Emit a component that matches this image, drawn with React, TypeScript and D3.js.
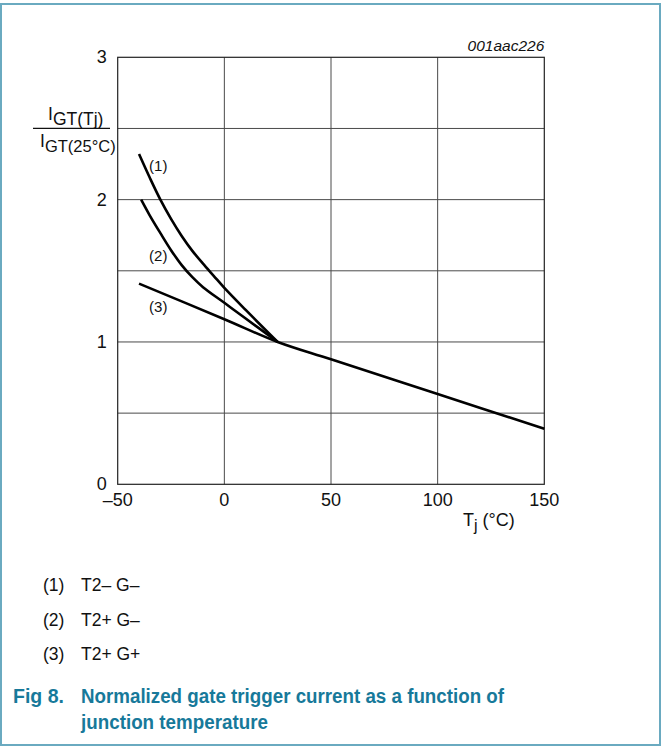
import { useEffect, useRef } from "react"
import * as d3 from "d3"

// Data
const xTicks = [-50, 0, 50, 100, 150]
const yTicks = [0, 1, 2, 3]
const yGrid = [0.5, 1, 1.5, 2, 2.5]

const curve1T = [-40, -35, -30, -25, -20, -15, -10, -5, 0, 10, 25]
const curve1V = [2.32, 2.155, 2.0, 1.865, 1.745, 1.64, 1.55, 1.465, 1.38, 1.225, 1.0]

const curve2T = [-39, -35, -30, -25, -20, -15, -10, 0, 10, 25]
const curve2V = [2.0, 1.89, 1.765, 1.645, 1.54, 1.455, 1.385, 1.275, 1.165, 1.0]

const curve3T = [-40, 0, 25, 50, 100, 150]
const curve3V = [1.41, 1.16, 1.0, 0.878, 0.634, 0.39]

const curveLabels = ["(1)", "(2)", "(3)"]
const labelT = [-35.3, -35.3, -35.3]
const labelV = [2.2, 1.57, 1.21]

const legendKeys = ["(1)", "(2)", "(3)"]
const legendNames = ["T2– G–", "T2+ G–", "T2+ G+"]

const FONT = "'Liberation Sans', Arial, Helvetica, sans-serif"
const TEAL = "#17799a"

export default function App() {
  const svgRef = useRef<SVGSVGElement>(null)

  useEffect(() => {
    if (!svgRef.current) return
    d3.select(svgRef.current).selectAll("*").remove()

    const W = 662
    const H = 747
    const plot = { left: 117.7, right: 544.3, top: 57.3, bottom: 484.3 }

    const svg = d3.select(svgRef.current).attr("width", W).attr("height", H)

    // Outer frame
    svg
      .append("rect")
      .attr("x", 1)
      .attr("y", 4)
      .attr("width", 659)
      .attr("height", 741)
      .attr("fill", "white")
      .attr("stroke", "#6aaac0")
      .attr("stroke-width", 2)

    const x = d3.scaleLinear().domain([-50, 150]).range([plot.left, plot.right])
    const y = d3.scaleLinear().domain([0, 3]).range([plot.bottom, plot.top])

    // Grid lines
    svg
      .append("g")
      .selectAll("line")
      .data(xTicks.slice(1, -1))
      .enter()
      .append("line")
      .attr("x1", (d) => x(d))
      .attr("x2", (d) => x(d))
      .attr("y1", plot.top)
      .attr("y2", plot.bottom)
      .attr("stroke", "#4a4a4a")
      .attr("stroke-width", 1)

    svg
      .append("g")
      .selectAll("line")
      .data(yGrid)
      .enter()
      .append("line")
      .attr("x1", plot.left)
      .attr("x2", plot.right)
      .attr("y1", (d) => y(d))
      .attr("y2", (d) => y(d))
      .attr("stroke", "#4a4a4a")
      .attr("stroke-width", 1)

    // Plot border
    svg
      .append("rect")
      .attr("x", plot.left)
      .attr("y", plot.top)
      .attr("width", plot.right - plot.left)
      .attr("height", plot.bottom - plot.top)
      .attr("fill", "none")
      .attr("stroke", "#222")
      .attr("stroke-width", 1.2)

    // Tick labels
    svg
      .append("g")
      .selectAll("text")
      .data(xTicks)
      .enter()
      .append("text")
      .attr("x", (d) => x(d))
      .attr("y", plot.bottom + 22)
      .attr("text-anchor", "middle")
      .attr("font-family", FONT)
      .attr("font-size", 18)
      .attr("fill", "#111")
      .text((d) => (d < 0 ? `–${Math.abs(d)}` : `${d}`))

    svg
      .append("g")
      .selectAll("text")
      .data(yTicks)
      .enter()
      .append("text")
      .attr("x", plot.left - 11)
      .attr("y", (d) => y(d) + 6)
      .attr("text-anchor", "end")
      .attr("font-family", FONT)
      .attr("font-size", 18)
      .attr("fill", "#111")
      .text((d) => `${d}`)

    // Curves
    const line = d3
      .line<[number, number]>()
      .x((d) => x(d[0]))
      .y((d) => y(d[1]))
      .curve(d3.curveCatmullRom.alpha(0.5))

    const series = [
      d3.zip(curve1T, curve1V) as [number, number][],
      d3.zip(curve2T, curve2V) as [number, number][],
      d3.zip(curve3T, curve3V) as [number, number][],
    ]

    svg
      .append("g")
      .selectAll("path")
      .data(series)
      .enter()
      .append("path")
      .attr("d", (d) => line(d))
      .attr("fill", "none")
      .attr("stroke", "#000")
      .attr("stroke-width", 2.6)

    // Curve labels
    svg
      .append("g")
      .selectAll("text")
      .data(curveLabels)
      .enter()
      .append("text")
      .attr("x", (_, i) => x(labelT[i]))
      .attr("y", (_, i) => y(labelV[i]))
      .attr("font-family", FONT)
      .attr("font-size", 15)
      .attr("fill", "#111")
      .text((d) => d)

    // Figure id
    svg
      .append("text")
      .attr("x", plot.right)
      .attr("y", 51)
      .attr("text-anchor", "end")
      .attr("font-family", FONT)
      .attr("font-size", 15.5)
      .attr("font-style", "italic")
      .attr("fill", "#111")
      .text("001aac226")

    // Y axis title (fraction)
    const yt = svg.append("g").attr("font-family", FONT).attr("fill", "#111")
    const num = yt.append("text").attr("x", 48).attr("y", 120).attr("font-size", 17.5)
    num.append("tspan").text("I")
    num.append("tspan").attr("dy", 5).attr("font-size", 17.5).text("GT(Tj)")
    yt.append("line")
      .attr("x1", 33)
      .attr("x2", 110)
      .attr("y1", 128.3)
      .attr("y2", 128.3)
      .attr("stroke", "#111")
      .attr("stroke-width", 1.2)
    const den = yt.append("text").attr("x", 40).attr("y", 147).attr("font-size", 17.5)
    den.append("tspan").text("I")
    den.append("tspan").attr("dy", 5).attr("font-size", 16.5).text("GT(25°C)")

    // X axis title
    const xt = svg
      .append("text")
      .attr("x", 463)
      .attr("y", 526)
      .attr("font-family", FONT)
      .attr("font-size", 18)
      .attr("fill", "#111")
    xt.append("tspan").text("T")
    xt.append("tspan").attr("dy", 5).attr("font-size", 16).text("j")
    xt.append("tspan").attr("dy", -5).text(" (°C)")

    // Legend
    const legend = svg
      .append("g")
      .selectAll("g")
      .data(legendNames)
      .enter()
      .append("g")
      .attr("font-family", FONT)
      .attr("font-size", 17.5)
      .attr("fill", "#111")
    legend
      .append("text")
      .attr("x", 43)
      .attr("y", (_, i) => 591 + i * 34.5)
      .text((_, i) => legendKeys[i])
    legend
      .append("text")
      .attr("x", 81)
      .attr("y", (_, i) => 591 + i * 34.5)
      .text((d) => d)

    // Caption
    const cap = svg
      .append("g")
      .attr("font-family", FONT)
      .attr("font-size", 19.5)
      .attr("font-weight", "bold")
      .attr("fill", TEAL)
    cap.append("text").attr("x", 13).attr("y", 703).text("Fig 8.")
    cap
      .append("text")
      .attr("x", 81)
      .attr("y", 703)
      .attr("textLength", 423)
      .attr("lengthAdjust", "spacingAndGlyphs")
      .text("Normalized gate trigger current as a function of")
    cap
      .append("text")
      .attr("x", 81)
      .attr("y", 729)
      .attr("textLength", 187)
      .attr("lengthAdjust", "spacingAndGlyphs")
      .text("junction temperature")
  }, [])

  return (
    <div style={{ position: "absolute", left: 0, top: 0, width: 662, height: 747 }}>
      <svg ref={svgRef} style={{ display: "block" }}></svg>
    </div>
  )
}
